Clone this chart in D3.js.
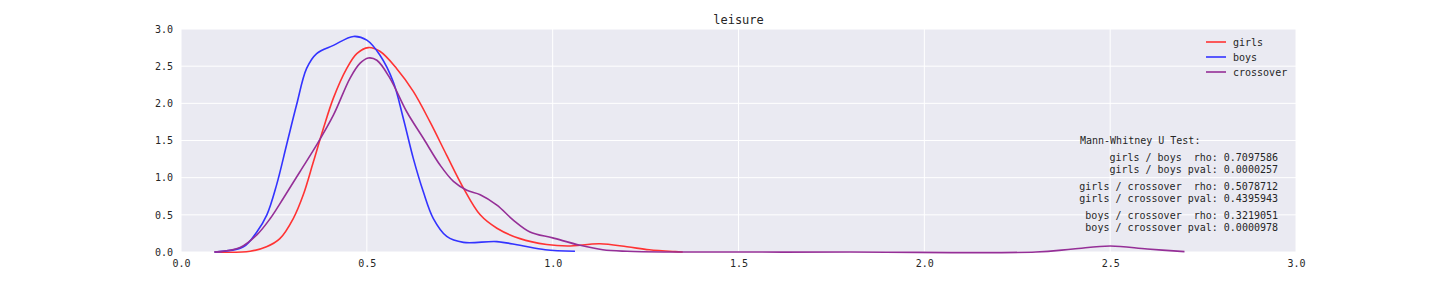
<!DOCTYPE html>
<html>
<head>
<meta charset="utf-8">
<script src="https://cdn.jsdelivr.net/npm/d3@7"></script>
<style>
  body { margin: 0; background: #fff; }
  text { font-family: "DejaVu Sans Mono", monospace; fill: #262626; }
</style>
</head>
<body>
<div id="chart-area"></div>
<script>
// density curves: [x, density]
var girls = [[0.09,0],[0.186,0.01],[0.23,0.07],[0.266,0.18],[0.302,0.45],[0.329,0.77],[0.356,1.21],
  [0.383,1.66],[0.41,2.07],[0.446,2.47],[0.473,2.67],[0.504,2.75],[0.535,2.70],[0.58,2.47],[0.625,2.16],
  [0.67,1.75],[0.715,1.30],[0.76,0.86],[0.805,0.50],[0.85,0.32],[0.912,0.18],[0.984,0.10],[1.04,0.08],
  [1.127,0.11],[1.2,0.07],[1.26,0.03],[1.33,0.005],[1.35,0]];
var boys = [[0.09,0],[0.168,0.07],[0.204,0.27],[0.231,0.50],[0.257,0.90],[0.284,1.44],[0.311,1.98],
  [0.338,2.47],[0.365,2.67],[0.41,2.78],[0.464,2.90],[0.50,2.85],[0.535,2.65],[0.571,2.29],[0.598,1.80],
  [0.625,1.26],[0.652,0.81],[0.679,0.45],[0.715,0.21],[0.76,0.13],[0.85,0.14],[0.912,0.09],[0.98,0.03],[1.06,0.01]];
var crossover = [[0.09,0],[0.159,0.06],[0.204,0.23],[0.24,0.45],[0.275,0.72],[0.32,1.08],[0.365,1.44],
  [0.41,1.84],[0.455,2.34],[0.482,2.54],[0.504,2.61],[0.527,2.58],[0.562,2.34],[0.607,1.89],[0.652,1.53],
  [0.697,1.17],[0.733,0.95],[0.769,0.83],[0.805,0.77],[0.85,0.63],[0.894,0.43],[0.939,0.27],[1.0,0.19],
  [1.074,0.09],[1.135,0.03],[1.2,0.01],[1.3,0],[1.8,0],[2.3,0],[2.4,0.04],[2.5,0.08],[2.6,0.04],[2.70,0.005]];

var seriesNames = ["girls", "boys", "crossover"];
var seriesColors = ["#ff3333", "#3333ff", "#952f97"];
var xTicks = [0.0, 0.5, 1.0, 1.5, 2.0, 2.5, 3.0];
var yTicks = [0.0, 0.5, 1.0, 1.5, 2.0, 2.5, 3.0];
var statLines = [
  ["Mann-Whitney U Test:"],
  ["girls / boys  rho: 0.7097586", "girls / boys pval: 0.0000257"],
  ["girls / crossover  rho: 0.5078712", "girls / crossover pval: 0.4395943"],
  ["boys / crossover  rho: 0.3219051", "boys / crossover pval: 0.0000978"]
];

var margin = {top: 29, left: 181};
var width = 1115;
var height = 223;

var svg = d3.select("#chart-area").append("svg")
    .attr("width", 1440)
    .attr("height", 288);

var g = svg.append("g")
    .attr("transform", "translate(" + margin.left + "," + margin.top + ")");

var x = d3.scaleLinear().domain([0, 3]).range([0, width]);
var y = d3.scaleLinear().domain([0, 3]).range([height, 0]);

g.append("rect")
    .attr("width", width)
    .attr("height", height)
    .attr("fill", "#eaeaf2");

// grid
g.selectAll(".vgrid").data(xTicks).enter().append("line")
    .attr("x1", (d) => x(d)).attr("x2", (d) => x(d))
    .attr("y1", 0).attr("y2", height)
    .attr("stroke", "#fff").attr("stroke-width", 1);
g.selectAll(".hgrid").data(yTicks).enter().append("line")
    .attr("y1", (d) => y(d)).attr("y2", (d) => y(d))
    .attr("x1", 0).attr("x2", width)
    .attr("stroke", "#fff").attr("stroke-width", 1);

// axes
var xAxis = g.append("g")
    .attr("transform", "translate(0," + height + ")")
    .call(d3.axisBottom(x).tickValues(xTicks).tickSize(0).tickPadding(8).tickFormat(d3.format(".1f")));
var yAxis = g.append("g")
    .call(d3.axisLeft(y).tickValues(yTicks).tickSize(0).tickPadding(8).tickFormat(d3.format(".1f")));
[xAxis, yAxis].forEach((a) => {
  a.select(".domain").remove();
  a.selectAll("text").attr("font-size", "10px").attr("fill", "#262626")
    .style("font-family", "'DejaVu Sans Mono', monospace");
});

var line = d3.line()
    .x((d) => x(d[0]))
    .y((d) => Math.min(height, y(d[1])))
    .curve(d3.curveCatmullRom.alpha(0.5));

[girls, boys, crossover].forEach((data, i) => {
  g.append("path")
      .datum(data)
      .attr("d", line)
      .attr("fill", "none")
      .attr("stroke", seriesColors[i])
      .attr("stroke-width", 1.6);
});

// title
svg.append("text")
    .attr("x", margin.left + width / 2)
    .attr("y", 24)
    .attr("text-anchor", "middle")
    .attr("font-size", "12px")
    .text("leisure");

// legend
var legend = g.selectAll(".legend").data(seriesNames).enter().append("g")
    .attr("transform", (d, i) => "translate(" + (1206 - margin.left) + "," + (42 - margin.top + i * 15) + ")");
legend.append("line")
    .attr("x1", 0).attr("x2", 20)
    .attr("stroke", (d, i) => seriesColors[i])
    .attr("stroke-width", 1.6);
legend.append("text")
    .attr("x", 27)
    .attr("dy", "0.35em")
    .attr("font-size", "10px")
    .text((d) => d);

// stats text
var statY = [144, 161, 190, 219];
svg.append("text")
    .attr("x", 1080)
    .attr("y", statY[0])
    .attr("font-size", "10px")
    .text(statLines[0][0]);
for (var k = 1; k < statLines.length; k++) {
  statLines[k].forEach((t, j) => {
    svg.append("text")
        .attr("x", 1278)
        .attr("y", statY[k] + j * 12)
        .attr("text-anchor", "end")
        .attr("font-size", "10px")
        .style("white-space", "pre")
        .attr("xml:space", "preserve")
        .text(t);
  });
}
</script>
</body>
</html>
